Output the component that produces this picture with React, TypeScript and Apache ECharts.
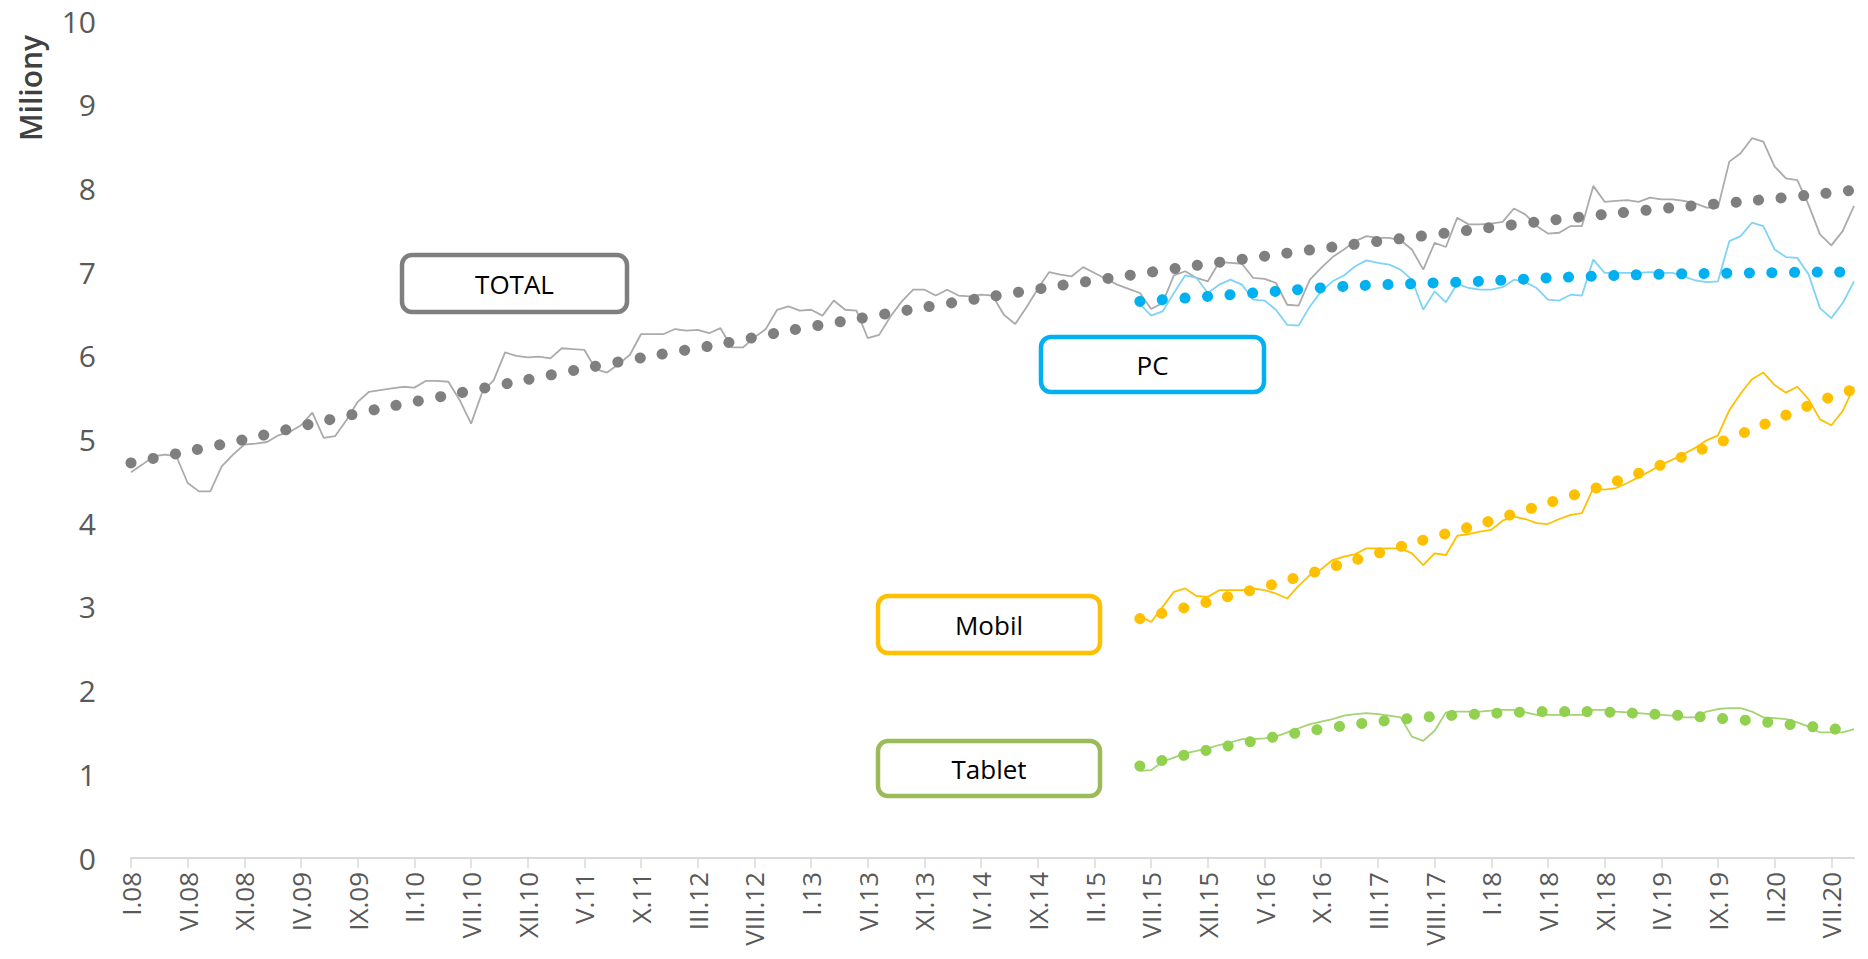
import React, { useEffect, useRef } from 'react';
import * as echarts from 'echarts';

const ROMAN = ['I', 'II', 'III', 'IV', 'V', 'VI', 'VII', 'VIII', 'IX', 'X', 'XI', 'XII'];
const FIRST_YEAR = 2008;
const LAST_YEAR = 2020;
const LAST_MONTH_OF_LAST_YEAR = 9; // IX.20

const CATEGORIES: string[] = [];
for (let y = FIRST_YEAR; y <= LAST_YEAR; y++) {
  const months = y === LAST_YEAR ? LAST_MONTH_OF_LAST_YEAR : 12;
  for (let m = 0; m < months; m++) CATEGORIES.push(`${ROMAN[m]}.${String(y % 100).padStart(2, '0')}`);
}

const Y_TICKS = [0, 1, 2, 3, 4, 5, 6, 7, 8, 9, 10];

// TOTAL, monthly from I.08
const TOTAL = [
  4.61, 4.70, 4.80, 4.82, 4.80, 4.48, 4.38, 4.38, 4.68, 4.82,
  4.94, 4.95, 4.97, 5.05, 5.09, 5.17, 5.32, 5.02, 5.04, 5.23,
  5.45, 5.57, 5.59, 5.61, 5.63, 5.62, 5.70, 5.70, 5.69, 5.47,
  5.19, 5.57, 5.71, 6.04, 6.00, 5.98, 5.99, 5.97, 6.09, 6.08,
  6.07, 5.84, 5.80, 5.90, 6.01, 6.26, 6.26, 6.26, 6.32, 6.30,
  6.31, 6.27, 6.33, 6.10, 6.10, 6.22, 6.32, 6.55, 6.59, 6.54,
  6.55, 6.48, 6.66, 6.55, 6.54, 6.21, 6.25, 6.47, 6.65, 6.79,
  6.79, 6.72, 6.79, 6.72, 6.71, 6.73, 6.72, 6.49, 6.38, 6.58,
  6.80, 7.00, 6.97, 6.95, 7.06, 6.99, 6.92, 6.85, 6.80, 6.75,
  6.56, 6.63, 6.96, 7.01, 6.93, 6.89, 7.12, 7.11, 7.10, 6.93,
  6.92, 6.87, 6.61, 6.60, 6.91, 7.05, 7.18, 7.27, 7.37, 7.43,
  7.41, 7.41, 7.38, 7.27, 7.03, 7.35, 7.30, 7.65, 7.57, 7.57,
  7.58, 7.60, 7.76, 7.69, 7.55, 7.46, 7.47, 7.55, 7.55, 8.03,
  7.84, 7.85, 7.86, 7.84, 7.89, 7.87, 7.87, 7.85, 7.82, 7.77,
  7.77, 8.32, 8.42, 8.60, 8.56, 8.26, 8.12, 8.10, 7.80, 7.45,
  7.32, 7.49, 7.79,
];

// PC, Mobil, Tablet, monthly from VI.15
const SEGMENT_START = 89;
const PC = [
  6.62, 6.48, 6.53, 6.75, 6.96, 6.93, 6.75, 6.85, 6.91, 6.85,
  6.67, 6.66, 6.55, 6.37, 6.36, 6.59, 6.77, 6.89, 6.96, 7.07,
  7.14, 7.11, 7.09, 7.03, 6.91, 6.55, 6.77, 6.64, 6.86, 6.81,
  6.79, 6.79, 6.82, 6.91, 6.88, 6.81, 6.67, 6.66, 6.73, 6.72,
  7.15, 6.99, 6.99, 6.99, 6.99, 7.00, 6.99, 6.99, 6.95, 6.90,
  6.88, 6.89, 7.37, 7.43, 7.59, 7.55, 7.27, 7.18, 7.17, 6.97,
  6.57, 6.45, 6.63, 6.89,
];
const MOBIL = [
  2.89, 2.82, 3.00, 3.18, 3.22, 3.13, 3.12, 3.20, 3.20, 3.20,
  3.22, 3.20, 3.16, 3.10, 3.25, 3.38, 3.45, 3.56, 3.60, 3.63,
  3.70, 3.70, 3.70, 3.70, 3.64, 3.50, 3.64, 3.62, 3.85, 3.87,
  3.90, 3.92, 4.03, 4.08, 4.05, 4.00, 3.99, 4.05, 4.10, 4.12,
  4.42, 4.40, 4.42, 4.48, 4.55, 4.62, 4.70, 4.76, 4.83, 4.90,
  4.99, 5.05, 5.35, 5.55, 5.72, 5.80, 5.65, 5.56, 5.63, 5.48,
  5.24, 5.17, 5.34, 5.63,
];
const TABLET = [
  1.04, 1.05, 1.15, 1.20, 1.25, 1.28, 1.31, 1.35, 1.38, 1.42,
  1.42, 1.43, 1.45, 1.50, 1.55, 1.60, 1.63, 1.66, 1.70, 1.72,
  1.73, 1.72, 1.70, 1.68, 1.45, 1.40, 1.52, 1.74, 1.75, 1.75,
  1.75, 1.76, 1.77, 1.77, 1.74, 1.71, 1.71, 1.71, 1.71, 1.71,
  1.77, 1.77, 1.75, 1.74, 1.73, 1.72, 1.71, 1.70, 1.68, 1.68,
  1.75, 1.78, 1.79, 1.79, 1.75, 1.68, 1.67, 1.66, 1.62, 1.57,
  1.50, 1.50, 1.50, 1.54,
];

// Trend lines (month index, value)
const TOTAL_TREND_M = [0, 4, 10, 16, 22, 28, 34, 40, 46, 52, 58, 64, 70, 76, 82, 88, 94, 100, 106, 112, 118, 124, 130, 136, 142, 148, 152];
const TOTAL_TREND_V = [4.72, 4.83, 5.0, 5.19, 5.37, 5.53, 5.69, 5.85, 6.0, 6.14, 6.3, 6.44, 6.58, 6.71, 6.84, 6.96, 7.08, 7.19, 7.3, 7.4, 7.5, 7.6, 7.69, 7.77, 7.84, 7.92, 7.98];
const PC_TREND_M = [89, 95, 101, 107, 113, 119, 125, 131, 137, 143, 149, 152];
const PC_TREND_V = [6.65, 6.71, 6.77, 6.83, 6.86, 6.89, 6.93, 6.96, 6.98, 6.99, 7.0, 7.0];
const MOBIL_TREND_M = [89, 95, 101, 107, 113, 119, 125, 131, 137, 143, 149, 152];
const MOBIL_TREND_V = [2.86, 3.06, 3.28, 3.52, 3.76, 3.99, 4.24, 4.5, 4.8, 5.12, 5.46, 5.6];
const TABLET_TREND_M = [89, 92, 95, 98, 101, 104, 107, 110, 113, 116, 119, 122, 125, 128, 131, 134, 137, 140, 143, 146, 149, 152];
const TABLET_TREND_V = [1.1, 1.2, 1.29, 1.37, 1.45, 1.52, 1.58, 1.63, 1.67, 1.7, 1.72, 1.74, 1.75, 1.75, 1.74, 1.72, 1.7, 1.67, 1.64, 1.6, 1.56, 1.52];

const LABELS = ['TOTAL', 'PC', 'Mobil', 'Tablet'];

const FONT = '"Open Sans", "Noto Sans", sans-serif';

const segment = (vals: number[]) => vals.map((v, i) => [SEGMENT_START + i, v]);
const pairs = (ms: number[], vs: number[]) => ms.map((m, i) => [m, vs[i]]);

const lineSeries = (name: string, data: any[], color: string) => ({
  name,
  type: 'line',
  data,
  showSymbol: false,
  symbol: 'none',
  lineStyle: { color, width: 1.8 },
  z: 2,
});

const trendSeries = (name: string, data: any[], color: string) => ({
  name,
  type: 'line',
  data,
  showSymbol: false,
  symbol: 'none',
  smooth: 0.3,
  lineStyle: { color, width: 11, type: [0.1, 22.5], cap: 'round' },
  z: 3,
});

const box = (x: number, y: number, w: number, h: number, color: string, label: string) => [
  {
    type: 'rect',
    shape: { x, y, width: w, height: h, r: 10 },
    style: { fill: '#ffffff', stroke: color, lineWidth: 4.5 },
    z: 10,
  },
  {
    type: 'text',
    x: x + w / 2,
    y: y + h / 2,
    style: {
      text: label,
      fill: '#000000',
      font: `26px ${FONT}`,
      textAlign: 'center',
      textVerticalAlign: 'middle',
    },
    z: 11,
  },
];

export default function App() {
  const ref = useRef<HTMLDivElement>(null);
  useEffect(() => {
    const chart = echarts.init(ref.current!, null, { renderer: 'svg' });
    chart.setOption({
      animation: false,
      backgroundColor: '#ffffff',
      grid: { left: 131, right: 14, top: 21, bottom: 101, containLabel: false },
      xAxis: {
        type: 'category',
        data: CATEGORIES,
        boundaryGap: false,
        axisLine: { lineStyle: { color: '#d9d9d9', width: 2 } },
        axisTick: { show: true, interval: 4, length: 10, lineStyle: { color: '#d9d9d9', width: 1.5 } },
        axisLabel: { interval: 4, rotate: 90, color: '#595959', fontSize: 26, fontFamily: FONT, margin: 14 },
        splitLine: { show: false },
      },
      yAxis: {
        type: 'value',
        min: Y_TICKS[0],
        max: Y_TICKS[Y_TICKS.length - 1],
        interval: 1,
        axisLine: { show: false },
        axisTick: { show: false },
        splitLine: { show: false },
        axisLabel: { color: '#595959', fontSize: 30, fontFamily: FONT, margin: 35 },
      },
      series: [
        lineSeries('TOTAL', TOTAL, '#ababab'),
        lineSeries('PC', segment(PC), '#7fd3f7'),
        lineSeries('Mobil', segment(MOBIL), '#ffc000'),
        lineSeries('Tablet', segment(TABLET), '#a2d474'),
        trendSeries('TOTAL trend', pairs(TOTAL_TREND_M, TOTAL_TREND_V), '#7f7f7f'),
        trendSeries('PC trend', pairs(PC_TREND_M, PC_TREND_V), '#00b0f0'),
        trendSeries('Mobil trend', pairs(MOBIL_TREND_M, MOBIL_TREND_V), '#ffc000'),
        trendSeries('Tablet trend', pairs(TABLET_TREND_M, TABLET_TREND_V), '#92d050'),
      ],
      graphic: [
        {
          type: 'text',
          x: 30,
          y: 88,
          rotation: Math.PI / 2,
          style: {
            text: 'Miliony',
            fill: '#404040',
            font: `600 30px ${FONT}`,
            textAlign: 'center',
            textVerticalAlign: 'middle',
          },
        },
        ...box(402, 255, 225, 57, '#7f7f7f', LABELS[0]),
        ...box(1041, 337, 223, 55, '#00b0f0', LABELS[1]),
        ...box(878, 596, 222, 57, '#ffc000', LABELS[2]),
        ...box(878, 741, 222, 55, '#9bbb59', LABELS[3]),
      ],
    });
    return () => chart.dispose();
  }, []);
  return (
    <div
      ref={ref}
      style={{ position: 'fixed', left: 0, top: 0, width: 1868, height: 959, background: '#ffffff' }}
    />
  );
}
